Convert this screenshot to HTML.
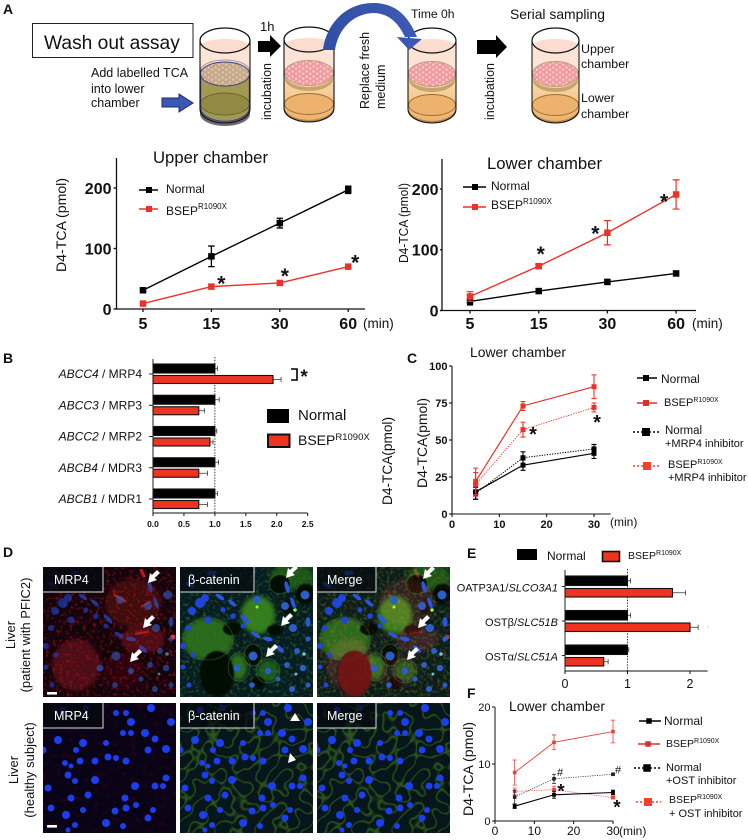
<!DOCTYPE html>
<html lang="en">
<head>
<meta charset="utf-8">
<title>Wash out assay figure</title>
<style>
html,body{margin:0;padding:0;background:#fff}
svg#figure{display:block}
text{font-family:"Liberation Sans",sans-serif;fill:#111}
.panel-letter{font-weight:bold;font-size:14px}
</style>
</head>
<body>
<svg id="figure" xmlns="http://www.w3.org/2000/svg" width="748" height="840" viewBox="0 0 748 840">
<defs>
<linearGradient id="lower-medium" x1="0" y1="0" x2="0" y2="1"><stop offset="0" stop-color="#fbe2bb"/><stop offset="1" stop-color="#ecb06a"/></linearGradient>
<linearGradient id="arc-blue" x1="0" y1="0" x2="1" y2="0"><stop offset="0" stop-color="#2f4fa6"/><stop offset="1" stop-color="#3f5ab4"/></linearGradient>
<pattern id="cells" width="7" height="5" patternUnits="userSpaceOnUse"><rect width="7" height="5" fill="#f09aa0"/><circle cx="1.7" cy="1.5" r="1.2" fill="#fbd0cc"/><circle cx="5.2" cy="3.7" r="1.2" fill="#fbd0cc"/></pattern>
<pattern id="cells-tan" width="7" height="5" patternUnits="userSpaceOnUse"><rect width="7" height="5" fill="#c8a88a"/><circle cx="1.7" cy="1.5" r="1.1" fill="#e2cdb4"/><circle cx="5.2" cy="3.7" r="1.1" fill="#e2cdb4"/></pattern>
<filter id="blur2" x="-30%" y="-30%" width="160%" height="160%"><feGaussianBlur stdDeviation="2"/></filter>
<filter id="blur1" x="-30%" y="-30%" width="160%" height="160%"><feGaussianBlur stdDeviation=".7"/></filter>
<filter id="red-speck" x="0" y="0" width="1" height="1" color-interpolation-filters="sRGB"><feTurbulence type="fractalNoise" baseFrequency=".3" numOctaves="2" seed="3"/><feColorMatrix values="0 0 0 0 .75  0 0 0 0 .06  0 0 0 0 .1  2 0 0 0 -1.05"/></filter>
<filter id="green-speck" x="0" y="0" width="1" height="1" color-interpolation-filters="sRGB"><feTurbulence type="fractalNoise" baseFrequency=".3" numOctaves="2" seed="8"/><feColorMatrix values="0 0 0 0 .2  0 0 0 0 .45  0 0 0 0 .12  2 0 0 0 -1"/></filter>
<filter id="green-net" x="0" y="0" width="1" height="1" color-interpolation-filters="sRGB"><feTurbulence type="fractalNoise" baseFrequency=".075" numOctaves="1" seed="11"/><feColorMatrix values="0 0 0 0 .2  0 0 0 0 .38  0 0 0 0 .1  1 0 0 0 0"/><feComponentTransfer><feFuncA type="table" tableValues="0 0 0 0 0 0 0 0 0 0 0 0 0 0 0 0 0 0 0 .4 .9 .4 0 0 0 0 0 0 0 0 0 0 0 0 0 0 0 0 0 0 0"/></feComponentTransfer></filter>
<filter id="red-net" x="0" y="0" width="1" height="1" color-interpolation-filters="sRGB"><feTurbulence type="fractalNoise" baseFrequency=".16" numOctaves="2" seed="5"/><feColorMatrix values="0 0 0 0 .4  0 0 0 0 .03  0 0 0 0 .08  2 0 0 0 -1"/></filter>

<g id="cylinder-outline">
<path d="M0,39.5 V108 A25,14 0 0 0 50,108 V39.5" fill="none" stroke="#111" stroke-width="1.1"/>
<ellipse cx="25" cy="39.5" rx="25" ry="12.5" fill="none" stroke="#111" stroke-width="1.2"/>
</g>
<g id="cylinder-orange">
<path d="M0,42 A25,10 0 0 0 50,42 V108 A25,14 0 0 1 0,108 Z" fill="#fde4d6"/>
<ellipse cx="25" cy="39.5" rx="25" ry="12.5" fill="#fff"/>
<path d="M1,45 A24,7 0 0 1 49,45 A24,7 0 0 1 1,45Z" fill="#fbdccf"/>
<path d="M0,73 H50 V108 A25,14 0 0 1 0,108 Z" fill="url(#lower-medium)"/>
<path d="M0,106 A25,14 0 0 0 50,106 V110 A25,12 0 0 1 0,110Z" fill="#b98548"/>
<ellipse cx="25" cy="104" rx="24.5" ry="10.5" fill="#ecb26e" stroke="#9a7030" stroke-width=".9"/>
<path d="M1,75 A24,12 0 0 0 49,75 V79 A24,12 0 0 1 1,79Z" fill="#c9a46a"/>
<ellipse cx="25" cy="73" rx="24.5" ry="12.5" fill="url(#cells)" stroke="#b89c80" stroke-width="1"/>
</g>
</defs>

<!-- Panel A schematic -->
<g>
<text class="panel-letter" x="3" y="14">A</text>
<rect x="32.5" y="23.5" width="160.5" height="34" fill="#fff" stroke="#222" stroke-width="1"/>
<text x="44" y="49" font-size="19.2">Wash out assay</text>

<g transform="translate(200,1)">
<path d="M0,42 A25,10 0 0 0 50,42 V108 A25,14 0 0 1 0,108 Z" fill="#fde4d6"/>
<ellipse cx="25" cy="39.5" rx="25" ry="12.5" fill="#fff"/>
<path d="M1,45 A24,7 0 0 1 49,45 A24,7 0 0 1 1,45Z" fill="#fbdccf"/>
<path d="M0,73 H50 V108 A25,14 0 0 1 0,108 Z" fill="#a39a52"/>
<path d="M0,106 A25,14 0 0 0 50,106 V113 A25,12 0 0 1 0,113Z" fill="#6a6a6a"/>
<ellipse cx="25" cy="103" rx="24.5" ry="11" fill="#908a45" stroke="#6a6430" stroke-width=".9"/>
<path d="M.7,73 V108 A24.5,14 0 0 0 49.3,108 V73" fill="none" stroke="#3a3f90" stroke-width="1"/>
<ellipse cx="25" cy="70" rx="24.5" ry="11" fill="none" stroke="#a89a88" stroke-width="1"/>
<ellipse cx="25" cy="73" rx="24.5" ry="12" fill="url(#cells-tan)" stroke="#3a3f90" stroke-width="1"/>
<use href="#cylinder-outline"/>
</g>
<g transform="translate(284,0)"><use href="#cylinder-orange"/><use href="#cylinder-outline"/></g>
<g transform="translate(408,1) scale(.96,1)"><use href="#cylinder-orange"/><use href="#cylinder-outline"/></g>
<g transform="translate(532,1) scale(.94,1)"><use href="#cylinder-orange"/><use href="#cylinder-outline"/></g>

<polygon points="258,41 270,41 270,35 281,46 270,57 270,52 258,52" fill="#000"/>
<polygon points="477,40 496,40 496,35 507,47 496,58 496,54 477,54" fill="#000"/>
<polygon points="162,98 179,98 179,94 193,103 179,112 179,107 162,107" fill="#3d58b4" stroke="#1d2a70" stroke-width="1"/>
<path d="M323,50 C326,25 345,3 373,3 C395,3 408,15 417,37 L405,37 C398,22 388,13 373,13 C352,14 338,30 335,50 Z" fill="url(#arc-blue)"/>
<polygon points="397,37 422,39 409,50" fill="#3a58b0"/>

<text x="260" y="31" font-size="13">1h</text>
<text transform="translate(271,120) rotate(-90)" font-size="12.5">incubation</text>
<text transform="translate(494,120) rotate(-90)" font-size="12.5">incubation</text>
<text transform="translate(369,109) rotate(-90)" font-size="12.5">Replace fresh</text>
<text transform="translate(385,109) rotate(-90)" font-size="12.5">medium</text>
<text x="411" y="18" font-size="12.2">Time 0h</text>
<text x="510" y="19" font-size="13.9">Serial sampling</text>
<text x="581" y="53" font-size="12.4">Upper</text>
<text x="581" y="68" font-size="12.4">chamber</text>
<text x="581" y="102" font-size="12.4">Lower</text>
<text x="581" y="118" font-size="12.4">chamber</text>
<text x="91" y="77" font-size="12.5">Add labelled TCA</text>
<text x="91" y="93" font-size="12.5">into lower</text>
<text x="91" y="107" font-size="12.5">chamber</text>
</g>

<!-- Chart containers -->
<g id="chart-upper">
<text x="153" y="163" font-size="17" textLength="115" lengthAdjust="spacingAndGlyphs">Upper chamber</text>
<text transform="translate(66,272) rotate(-90)" font-size="14" textLength="94" lengthAdjust="spacingAndGlyphs">D4-TCA (pmol)</text>
<text x="363" y="328" font-size="13.5">(min)</text>
<text x="166" y="193" font-size="12">Normal</text>
<text x="166" y="215" font-size="12" fill="#333">BSEP<tspan dy="-6" font-size="8">R1090X</tspan></text>
</g>
<g id="chart-lower">
<text x="487" y="169" font-size="17" textLength="115" lengthAdjust="spacingAndGlyphs">Lower chamber</text>
<text transform="translate(408,263) rotate(-90)" font-size="12.5" textLength="80" lengthAdjust="spacingAndGlyphs">D4-TCA (pmol)</text>
<text x="692" y="328" font-size="13.5">(min)</text>
<text x="491" y="190" font-size="12">Normal</text>
<text x="491" y="209" font-size="12">BSEP<tspan dy="-5" font-size="8">R1090X</tspan></text>
</g>
<g id="chart-b">
<text class="panel-letter" x="3" y="363">B</text>
<rect x="267" y="409" width="22" height="14" fill="#000"/>
<text x="298" y="420" font-size="15">Normal</text>
<rect x="268" y="434.5" width="21.5" height="12.5" fill="#ee3322" stroke="#111" stroke-width="2"/>
<text x="298" y="445" font-size="14">BSEP<tspan dy="-5" font-size="9.5">R1090X</tspan></text>
<path d="M291,369 H297 V380 H291" fill="none" stroke="#000" stroke-width="1.6"/>
</g>
<g id="chart-c">
<text class="panel-letter" x="407" y="363">C</text>
<text x="470" y="357" font-size="14" textLength="96" lengthAdjust="spacingAndGlyphs">Lower chamber</text>
<text transform="translate(392,505) rotate(-90)" font-size="14" textLength="88" lengthAdjust="spacingAndGlyphs">D4-TCA(pmol)</text>
<text transform="translate(427,488) rotate(-90)" font-size="14" textLength="90" lengthAdjust="spacingAndGlyphs">D4-TCA(pmol)</text>
<text x="610" y="526" font-size="12">(min)</text>
<text x="661" y="383" font-size="12">Normal</text>
<text x="664" y="406" font-size="11">BSEP<tspan dy="-4" font-size="7">R1090X</tspan></text>
<text x="665" y="434" font-size="11.5">Normal</text>
<text x="665" y="447" font-size="11">+MRP4 inhibitor</text>
<text x="668" y="468" font-size="11">BSEP<tspan dy="-4" font-size="7">R1090X</tspan></text>
<text x="668" y="481" font-size="11">+MRP4 inhibitor</text>
</g>

<!-- Panel D -->
<defs>
<g id="r1-nuclei">
<g fill="#1f45d8">
<circle cx="20" cy="36" r="5"/><circle cx="12" cy="44" r="4"/><circle cx="8" cy="61" r="3"/><circle cx="28" cy="53" r="3.5"/><circle cx="25" cy="31" r="4"/><circle cx="63" cy="59" r="2.5"/><circle cx="43" cy="43" r="2.5"/><circle cx="53" cy="49" r="2.8"/><circle cx="3" cy="79" r="3"/><circle cx="13" cy="88" r="2.5"/><circle cx="3" cy="100" r="2.5"/><circle cx="9" cy="118" r="2.5"/>
</g>
<g fill="#2a5ec8">
<circle cx="77" cy="33" r="4"/><circle cx="105" cy="39" r="4"/><circle cx="125" cy="28" r="4.5"/><circle cx="113" cy="61" r="4"/><circle cx="73" cy="89" r="4.5"/><circle cx="57" cy="101" r="3.5"/><circle cx="107" cy="98" r="3"/><circle cx="117" cy="84" r="3"/><circle cx="123" cy="101" r="3.2"/><circle cx="112" cy="122" r="3"/><circle cx="72" cy="118" r="2.8"/><circle cx="128" cy="72" r="2.5"/><circle cx="98" cy="112" r="2.5"/><circle cx="128" cy="118" r="2.5"/><circle cx="88" cy="104" r="3.2"/>
</g>
<g fill="#2a55e0">
<ellipse cx="52" cy="36" rx="5" ry="2" transform="rotate(40 52 36)"/><ellipse cx="65" cy="52" rx="6" ry="2.2" transform="rotate(45 65 52)"/><ellipse cx="76" cy="68" rx="5" ry="2" transform="rotate(30 76 68)"/><ellipse cx="88" cy="72" rx="5" ry="2.2" transform="rotate(10 88 72)"/><ellipse cx="100" cy="82" rx="5" ry="2.2" transform="rotate(40 100 82)"/><ellipse cx="107" cy="20" rx="2.2" ry="6" transform="rotate(-15 107 20)"/><ellipse cx="113" cy="36" rx="2" ry="6" transform="rotate(-20 113 36)"/><ellipse cx="128" cy="55" rx="2.5" ry="5"/>
<ellipse cx="10" cy="18" rx="5" ry="2.2" transform="rotate(30 10 18)"/><ellipse cx="40" cy="30" rx="5" ry="2" transform="rotate(35 40 30)"/><ellipse cx="32" cy="6" rx="5" ry="2.5"/>
</g>
<g fill="#6fc2ee"><circle cx="124" cy="87" r="1.8"/><circle cx="116" cy="107" r="1.4"/></g>
</g>

<g id="r1-green">
<g filter="url(#blur2)">
<ellipse cx="28" cy="72" rx="25" ry="21" fill="#2a6a1a"/>
<ellipse cx="78" cy="48" rx="17" ry="19" fill="#367f1e"/>
<ellipse cx="112" cy="10" rx="22" ry="13" fill="#1a5518"/>
<ellipse cx="58" cy="100" rx="9" ry="13" fill="#2c701b"/>
<ellipse cx="88" cy="104" rx="11" ry="11" fill="#1f5a1a"/>
</g>
<rect width="133" height="130" filter="url(#green-speck)"/>
<g fill="#020703" filter="url(#blur1)">
<ellipse cx="37" cy="107" rx="17" ry="23"/><ellipse cx="100" cy="17" rx="10" ry="9"/><ellipse cx="125" cy="27" rx="9" ry="10"/><ellipse cx="52" cy="62" rx="9" ry="6"/><ellipse cx="73" cy="88" rx="8" ry="10"/><ellipse cx="95" cy="63" rx="8" ry="5"/><ellipse cx="108" cy="40" rx="7" ry="7"/><ellipse cx="78" cy="116" rx="7" ry="6"/>
</g>
<g fill="none" stroke="#4f9028" stroke-width=".6" opacity=".6">
<ellipse cx="73" cy="88" rx="9" ry="11"/><ellipse cx="59" cy="100" rx="11" ry="14"/><ellipse cx="88" cy="104" rx="12" ry="12"/><ellipse cx="100" cy="17" rx="11" ry="10"/><ellipse cx="28" cy="72" rx="25" ry="21"/>
</g>
<circle cx="77" cy="40" r="1.5" fill="#7dff40"/><circle cx="115" cy="43" r="1.8" fill="#7dff40"/>
</g>

<g id="r1-red">
<g filter="url(#blur2)">
<ellipse cx="33" cy="98" rx="24" ry="26" fill="#4c0a12"/>
<ellipse cx="90" cy="36" rx="28" ry="24" fill="#3e0810"/>
<ellipse cx="100" cy="72" rx="22" ry="14" fill="#4e0a12"/>
<ellipse cx="80" cy="104" rx="20" ry="18" fill="#2c060c"/>
</g>
<rect width="133" height="130" filter="url(#red-speck)"/>
<g fill="#b81a1a">
<rect x="98" y="2" width="3" height="9" transform="rotate(-25 99 6)"/><rect x="70" y="30" width="14" height="2.5" transform="rotate(30 77 31)"/><rect x="92" y="65" width="14" height="2" transform="rotate(-10 98 66)"/><rect x="98" y="36" width="10" height="2" transform="rotate(-30 103 37)"/>
<circle cx="130" cy="70" r="2.5" fill="#ef3030"/>
</g>
</g>

<g id="r2-nuclei">
<g fill="#1b3ff0">
<circle cx="20" cy="7" r="3.5"/><circle cx="43" cy="5" r="3"/><circle cx="73" cy="10" r="3"/><circle cx="83" cy="10" r="3"/><circle cx="108" cy="5" r="4"/><circle cx="128" cy="19" r="4"/><circle cx="88" cy="19" r="4"/><circle cx="80" cy="30" r="3"/><circle cx="88" cy="30" r="3"/><circle cx="102" cy="30" r="4"/><circle cx="112" cy="36" r="3.5"/><circle cx="63" cy="40" r="3"/><circle cx="15" cy="37" r="4"/><circle cx="0" cy="47" r="3.5"/><circle cx="40" cy="40" r="4"/><circle cx="33" cy="47" r="3"/><circle cx="123" cy="46" r="4"/><circle cx="105" cy="47" r="3.5"/><circle cx="65" cy="54" r="3.5"/><circle cx="73" cy="55" r="3"/><circle cx="83" cy="58" r="3.5"/><circle cx="52" cy="58" r="3.5"/><circle cx="37" cy="58" r="3.5"/><circle cx="22" cy="60" r="3"/><circle cx="28" cy="63" r="2.5"/><circle cx="25" cy="72" r="3.5"/><circle cx="52" cy="77" r="4"/><circle cx="32" cy="78" r="3"/><circle cx="5" cy="85" r="3.5"/><circle cx="28" cy="95" r="3.5"/><circle cx="45" cy="92" r="3.5"/><circle cx="82" cy="95" r="3.5"/><circle cx="92" cy="83" r="4"/><circle cx="112" cy="83" r="3.5"/><circle cx="120" cy="83" r="3"/><circle cx="123" cy="75" r="3.5"/><circle cx="72" cy="108" r="3.5"/><circle cx="83" cy="105" r="3.5"/><circle cx="93" cy="102" r="3"/><circle cx="8" cy="105" r="3.5"/><circle cx="23" cy="112" r="4"/><circle cx="40" cy="107" r="3"/><circle cx="63" cy="120" r="4"/><circle cx="80" cy="123" r="3"/><circle cx="105" cy="115" r="3.5"/><circle cx="110" cy="107" r="3"/><circle cx="32" cy="122" r="3"/><circle cx="25" cy="127" r="2.5"/>
</g>
</g>
</defs>

<g>
<text class="panel-letter" x="3" y="557">D</text>
<text transform="translate(15,635) rotate(-90)" font-size="13" text-anchor="middle">Liver</text>
<text transform="translate(30,635) rotate(-90)" font-size="13" text-anchor="middle">(patient with PFIC2)</text>
<text transform="translate(18,770) rotate(-90)" font-size="13" text-anchor="middle">Liver</text>
<text transform="translate(34,770) rotate(-90)" font-size="13" text-anchor="middle">(healthy subject)</text>

<svg x="43" y="567" width="133" height="130">
<rect width="133" height="130" fill="#13040c"/><use href="#r1-red"/><use href="#r1-nuclei" opacity=".6"/>
</svg>
<svg x="180" y="567" width="133" height="130">
<rect width="133" height="130" fill="#061c22"/><use href="#r1-green"/><use href="#r1-nuclei"/>
</svg>
<svg x="317" y="567" width="133" height="130">
<rect width="133" height="130" fill="#081c1a"/><use href="#r1-green"/>
<g style="mix-blend-mode:screen" opacity=".6"><use href="#r1-red"/></g>
<ellipse cx="38" cy="107" rx="17" ry="23" fill="#7a1814" opacity=".85" filter="url(#blur1)"/>
<use href="#r1-nuclei"/>
</svg>
<svg x="43" y="703" width="133" height="130">
<rect width="133" height="130" fill="#080316"/><rect width="133" height="130" filter="url(#red-net)" opacity=".4"/><use href="#r2-nuclei"/>
</svg>
<svg x="180" y="703" width="133" height="130">
<rect width="133" height="130" fill="#06161a"/><rect width="133" height="130" filter="url(#green-net)"/><use href="#r2-nuclei"/>
</svg>
<svg x="317" y="703" width="133" height="130">
<rect width="133" height="130" fill="#06161a"/><rect x="0" y="0" width="133" height="130" filter="url(#green-net)"/><use href="#r2-nuclei"/>
</svg>

<g fill="#050a10" stroke="#d8dde0" stroke-width="1">
<path d="M43,592 H103 V567 H43Z" stroke="none" opacity=".8"/><path d="M43,592 H103 V567" fill="none"/>
<path d="M180,592 H254 V567 H180Z" stroke="none" opacity=".7"/><path d="M180,592 H254 V567" fill="none"/>
<path d="M317,592 H376 V567 H317Z" stroke="none" opacity=".7"/><path d="M317,592 H376 V567" fill="none"/>
<path d="M43,728 H103 V703 H43Z" stroke="none" opacity=".8"/><path d="M43,728 H103 V703" fill="none"/>
<path d="M180,728 H254 V703 H180Z" stroke="none" opacity=".7"/><path d="M180,728 H254 V703" fill="none"/>
<path d="M317,728 H376 V703 H317Z" stroke="none" opacity=".7"/><path d="M317,728 H376 V703" fill="none"/>
</g>
<text style="fill:#fff" x="54" y="584" font-size="12.5">MRP4</text>
<text style="fill:#fff" x="188" y="584" font-size="12.5">β-catenin</text>
<text style="fill:#fff" x="327" y="584" font-size="12.5">Merge</text>
<text style="fill:#fff" x="54" y="720" font-size="12.5">MRP4</text>
<text style="fill:#fff" x="188" y="720" font-size="12.5">β-catenin</text>
<text style="fill:#fff" x="327" y="720" font-size="12.5">Merge</text>

<rect x="47" y="692" width="10" height="2.6" fill="#fff"/>
<rect x="47" y="825" width="10" height="2.6" fill="#fff"/>

<g fill="#fff">
<g transform="translate(148,583)"><polygon points="0,0 9,-3 6.5,-5 12,-10 9,-13 4,-8 2,-10"/></g>
<g transform="translate(143,628)"><polygon points="0,0 9,-3 6.5,-5 12,-10 9,-13 4,-8 2,-10"/></g>
<g transform="translate(130,662)"><polygon points="0,0 9,-3 6.5,-5 12,-10 9,-13 4,-8 2,-10"/></g>
<g transform="translate(286,578)"><polygon points="0,0 9,-3 6.5,-5 12,-10 9,-13 4,-8 2,-10"/></g>
<g transform="translate(281,626)"><polygon points="0,0 9,-3 6.5,-5 12,-10 9,-13 4,-8 2,-10"/></g>
<g transform="translate(266,657)"><polygon points="0,0 9,-3 6.5,-5 12,-10 9,-13 4,-8 2,-10"/></g>
<g transform="translate(423,579)"><polygon points="0,0 9,-3 6.5,-5 12,-10 9,-13 4,-8 2,-10"/></g>
<g transform="translate(418,628)"><polygon points="0,0 9,-3 6.5,-5 12,-10 9,-13 4,-8 2,-10"/></g>
<g transform="translate(407,660)"><polygon points="0,0 9,-3 6.5,-5 12,-10 9,-13 4,-8 2,-10"/></g>
<polygon points="295,713 290,721 300,721"/>
<polygon points="290,753 296,760 288,763"/>
</g>
</g>

<g id="chart-e">
<text class="panel-letter" x="467" y="558">E</text>
<rect x="517" y="549" width="20" height="11" fill="#000"/>
<text x="547" y="560" font-size="12">Normal</text>
<rect x="602.5" y="551.5" width="17" height="10" fill="#ee3322" stroke="#111" stroke-width="1.6"/>
<text x="628" y="559" font-size="10.5">BSEP<tspan dy="-4" font-size="7">R1090X</tspan></text>
<circle cx="708" cy="627" r=".5" fill="#777"/>
</g>
<g id="chart-f">
<text class="panel-letter" x="467" y="698">F</text>
<text x="509" y="711" font-size="14" textLength="96" lengthAdjust="spacingAndGlyphs">Lower chamber</text>
<text transform="translate(473,816) rotate(-90)" font-size="14" textLength="94" lengthAdjust="spacingAndGlyphs">D4-TCA (pmol)</text>
<text x="619" y="835" font-size="12">(min)</text>
<text x="664" y="725" font-size="12">Normal</text>
<text x="666" y="747" font-size="10.5">BSEP<tspan dy="-4" font-size="7">R1090X</tspan></text>
<text x="666" y="771" font-size="11">Normal</text>
<text x="666" y="784" font-size="11">+OST inhibitor</text>
<text x="669" y="803" font-size="10.5">BSEP<tspan dy="-4" font-size="7">R1090X</tspan></text>
<text x="669" y="817" font-size="11">+ OST inhibitor</text>
</g>
</svg>

<script>
// Panel A, upper chamber
const upperTimes = ['5', '15', '30', '60'];
const upperNormal = [31, 87, 142, 197];
const upperNormalErr = [3, 17, 8, 6];
const upperBsep = [9, 37, 43, 70];
const upperBsepErr = [2, 3, 3, 3];
const upperYTicks = [0, 100, 200];
// Panel A, lower chamber
const lowerTimes = ['5', '15', '30', '60'];
const lowerNormal = [15, 32, 47, 61];
const lowerNormalErr = [6, 3, 4, 3];
const lowerBsep = [23, 73, 128, 191];
const lowerBsepErr = [8, 3, 20, 24];
const lowerYTicks = [0, 100, 200];
// Panel B
const bGenes = ['ABCC4', 'ABCC3', 'ABCC2', 'ABCB4', 'ABCB1'];
const bProteins = ['MRP4', 'MRP3', 'MRP2', 'MDR3', 'MDR1'];
const bNormal = [1, 1, 1, 1, 1];
const bNormalErr = [0.04, 0.07, 0.03, 0.06, 0.04];
const bBsep = [1.94, 0.74, 0.92, 0.74, 0.74];
const bBsepErr = [0.13, 0.09, 0.05, 0.14, 0.14];
const bXTicks = [0, 0.5, 1, 1.5, 2, 2.5];
const bXTickLabels = ['0.0', '0.5', '1.0', '1.5', '2.0', '2.5'];
// Panel C
const cTimes = [5, 15, 30];
const cNormal = [15, 33, 41];
const cNormalErr = [5, 3.5, 3.5];
const cBsep = [22, 73, 86];
const cBsepErr = [9, 3, 8];
const cNormalInh = [14, 38, 44];
const cNormalInhErr = [4, 4, 3];
const cBsepInh = [20, 57, 72];
const cBsepInhErr = [8, 5, 3];
const cXTicks = [0, 10, 20, 30];
const cYTicks = [0, 25, 50, 75, 100];
// Panel E
const eProteins = ['OATP3A1', 'OSTβ', 'OSTα'];
const eGenes = ['SLCO3A1', 'SLC51B', 'SLC51A'];
const eNormal = [1, 1, 1];
const eNormalErr = [0.05, 0.05, 0.02];
const eBsep = [1.72, 2, 0.62];
const eBsepErr = [0.21, 0.13, 0.07];
const eXTicks = [0, 1, 2];
// Panel F
const fTimes = [5, 15, 30];
const fNormal = [2.6, 4.6, 5];
const fNormalErr = [0.4, 0.6, 0.4];
const fBsep = [8.5, 13.8, 15.7];
const fBsepErr = [2.2, 1.3, 2];
const fNormalInh = [4.2, 7.4, 8.2];
const fNormalInhErr = [1.2, 0.8, 0.1];
const fBsepInh = [5.2, 5.5, 4.1];
const fBsepInhErr = [0.6, 0.6, 0.2];
const fXTicks = [0, 10, 20, 30];
const fYTicks = [0, 10, 20];

const NS = 'http://www.w3.org/2000/svg';
const RED = '#ea3228';
const BLACK = '#000';

function make(tag, attrs, parent, content) {
  const node = document.createElementNS(NS, tag);
  for (const key in attrs) node.setAttribute(key, attrs[key]);
  if (content !== undefined) node.textContent = content;
  parent.appendChild(node);
  return node;
}
function linear(d0, d1, r0, r1) {
  return v => r0 + (v - d0) * (r1 - r0) / (d1 - d0);
}

function yAxis(parent, x, scale, top, bottom, ticks, opts) {
  const axis = make('path', {d: `M${x},${top} V${bottom}`, stroke: '#111', 'stroke-width': opts.lw, fill: 'none'}, parent);
  
  
  ticks.forEach(t => {
    const mark = make('path', {d: `M${x - opts.len},${scale(t)} H${x}`, stroke: '#111', 'stroke-width': opts.lw}, parent);
    
    
    const label = make('text', {x: x - opts.len - opts.gap, y: scale(t) + opts.size * 0.36, 'font-size': opts.size, 'font-weight': opts.weight, 'text-anchor': 'end'}, parent, String(t));
    
    
  });
}
function xAxis(parent, y, x0, x1, positions, labels, opts) {
  const axis = make('path', {d: `M${x0},${y} H${x1}`, stroke: '#111', 'stroke-width': opts.lw, fill: 'none'}, parent);
  
  
  positions.forEach((px, i) => {
    const mark = make('path', {d: `M${px},${y} V${y + opts.len}`, stroke: '#111', 'stroke-width': opts.lw}, parent);
    
    
    const label = make('text', {x: px, y: opts.base, 'font-size': opts.size, 'font-weight': opts.weight, 'text-anchor': 'middle'}, parent, labels[i]);
    
    
  });
}
function series(parent, seriesName, xs, values, errs, yScale, style) {
  const g = make('g', {}, parent);
  
  
  const line = make('polyline', {points: values.map((v, i) => `${xs[i]},${yScale(v)}`).join(' '), fill: 'none', stroke: style.color, 'stroke-width': style.lw, 'stroke-dasharray': style.dash || 'none'}, g);
  
  
  values.forEach((v, i) => {
    const px = xs[i];
    const hi = yScale(v + errs[i]);
    const lo = yScale(v - errs[i]);
    const bar = make('path', {d: `M${px - style.cap},${hi} H${px + style.cap} M${px},${hi} V${lo} M${px - style.cap},${lo} H${px + style.cap}`, fill: 'none', stroke: style.color, 'stroke-width': style.errLw || 1.1}, g);
    
    
    const point = make('rect', {x: px - style.size / 2, y: yScale(v) - style.size / 2, width: style.size, height: style.size, fill: style.color}, g);
    
    
  });
}
function star(parent, x, y, size) {
  const s = size || 21;
  const mark = make('text', {x: x, y: y + s * 0.52, 'font-size': s, 'text-anchor': 'middle', 'font-weight': 'bold'}, parent, '*');
  
  
}
function legendKey(parent, x0, x1, mx, y, color, lw, dash, size) {
  const line = make('path', {d: `M${x0},${y} H${x1}`, stroke: color, 'stroke-width': lw, 'stroke-dasharray': dash || 'none'}, parent);
  
  
  const marker = make('rect', {x: mx - size / 2, y: y - size / 2, width: size, height: size, fill: color}, parent);
  
  
}
function bars(parent, seriesName, values, errs, xScale, yTop, h, color) {
  values.forEach((v, i) => {
    const top = yTop(i);
    const whisker = make('path', {d: `M${xScale(v)},${top + h / 2} H${xScale(v + errs[i])} M${xScale(v + errs[i])},${top + h / 2 - 2.5} v5`, stroke: '#333', 'stroke-width': .8, fill: 'none'}, parent);
    
    
    const bar = make('rect', {x: xScale(0), y: top, width: xScale(v) - xScale(0), height: h, fill: color, stroke: '#111', 'stroke-width': 1.1}, parent);
    
    
  });
}

// ---------- Panel A upper ----------
(function () {
  const g = document.getElementById('chart-upper');
  const y = linear(0, 200, 309, 188);
  const xs = upperTimes.map((_, i) => 143 + i * 68.4);
  series(g, 'normal', xs, upperNormal, upperNormalErr, y, {color: BLACK, lw: 1.4, size: 6.5, cap: 3.2, errLw: 1.3});
  series(g, 'bsep', xs, upperBsep, upperBsepErr, y, {color: RED, lw: 1.4, size: 6.5, cap: 2.5, errLw: 1});
  yAxis(g, 116.5, y, 158, 309, upperYTicks, {lw: 1.3, len: 3, gap: 2, size: 16, weight: 'bold'});
  xAxis(g, 309, 115, 365, xs, upperTimes, {lw: 1.3, len: 3, base: 329, size: 16, weight: 'bold'});
  upperBsep.forEach((v, i) => { if (i > 0) star(g, xs[i] + (i === 3 ? 7 : i === 2 ? 5 : 10), y(v) - (i === 1 ? 7 : i === 2 ? 11 : 8)); });
  legendKey(g, 139, 158, 149, 190, BLACK, 1.4, null, 6);
  legendKey(g, 139, 158, 149, 209, RED, 1.4, null, 6);
})();

// ---------- Panel A lower ----------
(function () {
  const g = document.getElementById('chart-lower');
  const y = linear(0, 200, 310.5, 189);
  const xs = lowerTimes.map((_, i) => 470 + i * 68.7);
  series(g, 'normal', xs, lowerNormal, lowerNormalErr, y, {color: BLACK, lw: 1.4, size: 6.5, cap: 3, errLw: 1.2});
  series(g, 'bsep', xs, lowerBsep, lowerBsepErr, y, {color: RED, lw: 1.4, size: 6.5, cap: 3.5, errLw: 1.2});
  yAxis(g, 442, y, 159, 310.5, lowerYTicks, {lw: 1.3, len: 2, gap: 1.5, size: 16, weight: 'bold'});
  xAxis(g, 310.5, 440, 696, xs, lowerTimes, {lw: 1.3, len: 3, base: 329, size: 16, weight: 'bold'});
  lowerBsep.forEach((v, i) => { if (i > 0) star(g, xs[i] + (i === 1 ? 2 : -12), y(v) + (i === 1 ? -16 : i === 2 ? -3 : 3)); });
  legendKey(g, 463, 486, 475, 187, BLACK, 1.4, null, 6);
  legendKey(g, 463, 486, 475, 207, RED, 1.4, null, 6);
})();

// ---------- Panel B ----------
(function () {
  const g = document.getElementById('chart-b');
  const x = linear(0, 2.5, 153, 307.7);
  const band = i => 374 + i * 31.25;
  const dotted = make('path', {d: `M${x(1)},357 V513`, stroke: '#222', 'stroke-width': .9, 'stroke-dasharray': '1.4 1.4'}, g);
  
  
  bars(g, 'normal', bNormal, bNormalErr, x, i => band(i) - 10, 9, '#000');
  bars(g, 'bsep', bBsep, bBsepErr, x, i => band(i) + 1.5, 8, '#ee3322');
  const axis = make('path', {d: `M153,359 V513`, stroke: '#222', 'stroke-width': 1, fill: 'none'}, g);
  
  
  bGenes.forEach((gene, i) => {
    const tick = make('path', {d: `M149,${band(i)} H153`, stroke: '#222', 'stroke-width': 1}, g);
    
    
    const label = make('text', {x: 142, y: band(i) + 4, 'font-size': 12, 'text-anchor': 'end'}, g);
    
    
    make('tspan', {'font-style': 'italic'}, label, gene);
    make('tspan', {}, label, ' / ' + bProteins[i]);
  });
  xAxis(g, 513, 153, 307.7, bXTicks.map(x), bXTickLabels, {lw: 1, len: 3, base: 527, size: 8.5, weight: 'bold'});
  star(g, x(bBsep[0]) + 31, band(0) - 1, 19);
})();

// ---------- Panel C ----------
(function () {
  const g = document.getElementById('chart-c');
  const x = linear(0, 30, 452, 594);
  const y = linear(0, 100, 514, 366);
  const xs = cTimes.map(x);
  series(g, 'normal', xs, cNormal, cNormalErr, y, {color: BLACK, lw: 1.2, size: 5, cap: 2.5});
  series(g, 'normal-mrp4-inhibitor', xs, cNormalInh, cNormalInhErr, y, {color: BLACK, lw: 1, size: 5, cap: 2.5, dash: '1.3 1.3'});
  series(g, 'bsep', xs, cBsep, cBsepErr, y, {color: RED, lw: 1.2, size: 5, cap: 2.5});
  series(g, 'bsep-mrp4-inhibitor', xs, cBsepInh, cBsepInhErr, y, {color: RED, lw: .9, size: 5, cap: 2.5, dash: '1.3 1.3'});
  yAxis(g, 452, y, 366, 514, cYTicks, {lw: 1.1, len: 3, gap: 1.5, size: 11, weight: 'bold'});
  xAxis(g, 514, 452, 610.7, cXTicks.map(x), cXTicks.map(String), {lw: 1.1, len: 3, base: 528, size: 11, weight: 'bold'});
  star(g, xs[1] + 10, y(cBsepInh[1]) + 1, 20);
  star(g, xs[2] + 3, y(cBsepInh[2]) + 11, 20);
  legendKey(g, 637, 657, 646, 378, BLACK, 1.4, null, 6);
  legendKey(g, 637, 657, 646, 403, '#d8322a', 1.4, null, 6);
  legendKey(g, 633, 660, 646, 432, BLACK, 1.6, '2 2', 8);
  legendKey(g, 633, 660, 647, 466, '#f5402e', 1.6, '2 2', 8);
})();

// ---------- Panel E ----------
(function () {
  const g = document.getElementById('chart-e');
  const x = linear(0, 2, 565, 690);
  const band = i => 586.5 + i * 34.5;
  const dotted = make('path', {d: `M${x(1)},569 V671`, stroke: '#222', 'stroke-width': .9, 'stroke-dasharray': '1.4 1.4'}, g);
  
  
  bars(g, 'normal', eNormal, eNormalErr, x, i => band(i) - 10.5, 9.5, '#000');
  bars(g, 'bsep', eBsep, eBsepErr, x, i => band(i) + 2, 8.5, '#ee3322');
  const axis = make('path', {d: 'M565,570 V671', stroke: '#222', 'stroke-width': 1, fill: 'none'}, g);
  
  
  eProteins.forEach((protein, i) => {
    const tick = make('path', {d: `M562,${band(i)} H565`, stroke: '#222', 'stroke-width': 1}, g);
    
    
    const label = make('text', {x: 558, y: band(i) + 5, 'font-size': 11, 'text-anchor': 'end'}, g);
    
    
    make('tspan', {}, label, protein + '/');
    make('tspan', {'font-style': 'italic'}, label, eGenes[i]);
  });
  xAxis(g, 671, 565, 707.7, eXTicks.map(x), eXTicks.map(String), {lw: 1, len: 3, base: 688, size: 12.5, weight: 'normal'});
})();

// ---------- Panel F ----------
(function () {
  const g = document.getElementById('chart-f');
  const x = linear(0, 30, 495, 613);
  const y = linear(0, 20, 821, 707);
  const xs = fTimes.map(x);
  series(g, 'bsep', xs, fBsep, fBsepErr, y, {color: '#e4433a', lw: .9, size: 3.6, cap: 2.2, errLw: .8});
  series(g, 'bsep-ost-inhibitor', xs, fBsepInh, fBsepInhErr, y, {color: '#ee3a30', lw: .7, size: 3.6, cap: 2, dash: '1.2 1.2', errLw: .7});
  series(g, 'normal-ost-inhibitor', xs, fNormalInh, fNormalInhErr, y, {color: '#222', lw: .7, size: 3.6, cap: 2, dash: '1.2 1.2', errLw: .8});
  series(g, 'normal', xs, fNormal, fNormalErr, y, {color: BLACK, lw: 1.1, size: 3.8, cap: 2, errLw: .9});
  yAxis(g, 495, y, 707, 821, fYTicks, {lw: 1, len: 3, gap: 1.5, size: 11, weight: 'normal'});
  xAxis(g, 821, 495, 613, fXTicks.map(x), fXTicks.map(String), {lw: 1, len: 3, base: 835, size: 12, weight: 'normal'});
  const hash1 = make('text', {x: xs[1] + 6, y: y(fNormalInh[1]) - 3, 'font-size': 11, 'text-anchor': 'middle'}, g, '#');
  
  
  const hash2 = make('text', {x: xs[2] + 5, y: y(fNormalInh[2]) - 1, 'font-size': 11, 'text-anchor': 'middle'}, g, '#');
  
  
  star(g, xs[1] + 7, y(fBsepInh[1]) - 2, 19);
  star(g, xs[2] + 4, y(fBsepInh[2]) + 6, 19);
  legendKey(g, 639, 661, 649, 721, BLACK, 1.4, null, 5.5);
  legendKey(g, 638, 660, 648, 744, '#d8322a', 1.4, null, 5.5);
  legendKey(g, 634, 661, 647, 768, BLACK, 1.6, '2 2', 7.5);
  legendKey(g, 636, 661, 648, 802, '#f5402e', 1.6, '2 2', 8);
})();
</script>
</body>
</html>
